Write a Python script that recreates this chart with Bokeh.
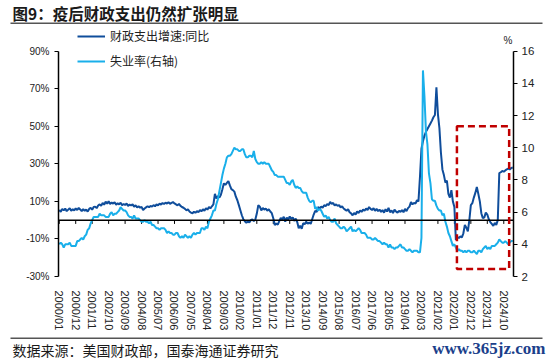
from bokeh.plotting import figure
from bokeh.layouts import column
from bokeh.models import (Range1d, LinearAxis, FixedTicker, PrintfTickFormatter,
                          Legend, LegendItem, Label, BoxAnnotation, Span, ColumnDataSource)
from bokeh.embed import file_html
from bokeh.resources import INLINE

# ---------------- data ----------------
f2000 = [5.5, 4.4, 6.0, 5.2, 6.2, 4.8, 5.6, 6.4, 5.0, 5.8, 5.2, 6.3]
f2001 = [5.4, 6.5, 5.7, 4.8, 5.9, 5.0, 5.6, 4.6, 6.0, 6.6, 5.6, 7.0]
f2002 = [7.2, 6.4, 7.8, 8.4, 7.6, 9.2, 8.2, 9.8, 8.8, 10.0, 8.6, 9.4]
f2003 = [8.8, 9.5, 8.2, 9.0, 8.4, 9.3, 7.9, 8.6, 8.1, 8.8, 7.6, 8.3]
f2004 = [7.8, 8.4, 7.2, 7.9, 6.8, 7.4, 6.6, 7.1, 5.3, 6.2, 6.8, 7.4]
f2005 = [6.9, 7.6, 7.2, 8.0, 7.4, 8.4, 7.8, 8.8, 8.3, 9.1, 8.6, 9.3]
f2006 = [8.8, 9.5, 8.7, 9.2, 9.6, 8.9, 8.4, 7.9, 8.6, 7.6, 7.0, 6.6]
f2007 = [6.0, 5.2, 5.8, 4.6, 4.0, 3.7, 4.5, 3.9, 4.8, 4.2, 5.4, 4.7]
f2008 = [5.8, 5.0, 6.4, 5.6, 7.0, 6.3, 7.4, 8.4, 14.0, 11.5, 12.8, 12.0]
f2009 = [13.5, 16.5, 19.6, 18.8, 19.8, 20.8, 18.5, 16.5, 16.0, 15.2, 12.5, 10.6]
f2010 = [8.0, 5.3, 2.6, 0.5, -0.6, -1.4, -0.8, -1.2, 0.0, 0.4, -0.5, 0.3]
f2011 = [3.5, 8.0, 7.2, 5.2, 6.5, 5.6, 6.2, 5.0, 5.8, 4.6, 3.7, 1.0]
f2012 = [-2.6, -1.8, -2.4, -0.5, 1.2, 0.3, 1.8, -0.8, 1.4, 0.2, 2.0, 0.6]
f2013 = [1.5, -0.4, 0.8, -1.0, -4.3, -3.0, -4.6, -1.6, -2.2, -0.8, -1.9, -1.2]
f2014 = [-2.0, 0.5, 3.0, 5.0, 4.4, 7.0, 6.2, 7.2, 6.6, 8.0, 7.4, 8.6]
f2015 = [8.0, 9.7, 8.6, 9.2, 7.8, 8.4, 7.6, 8.0, 6.8, 7.4, 6.2, 5.6]
f2016 = [5.0, 5.8, 4.2, 3.6, 2.6, 3.8, 3.0, 4.6, 3.8, 5.2, 4.4, 5.6]
f2017 = [5.0, 6.2, 5.4, 7.0, 6.0, 5.4, 6.4, 5.0, 6.0, 4.8, 5.6, 4.4]
f2018 = [5.4, 4.0, 5.8, 4.6, 6.6, 4.2, 5.2, 3.8, 5.6, 4.6, 4.0, 5.0]
f2019 = [4.4, 5.4, 4.2, 6.0, 4.8, 6.4, 7.2, 9.7, 8.4, 9.2, 8.8, 10.6]
f2020 = [10.0, 23.0, 38.0, 42.0, 45.0, 47.0, 48.5, 50.0, 51.5, 53.0, 54.8, 56.0]
f2021 = [70.7, 56.5, 49.0, 36.0, 27.0, 24.0, 20.0, 21.0, 14.0, 12.0, 16.0, 10.0]
f2022 = [7.0, -10.6, -9.0, -9.5, -8.6, -9.2, -7.0, -2.6, -4.0, -6.0, 0.0, 8.0]
f2023 = [9.0, 12.0, 14.5, 17.7, 14.0, 10.0, 3.7, 1.0, 1.5, 4.0, 3.0, 0.5]
f2024 = [-1.0, -2.0, -3.0, -1.5, -2.5, 0.0, 25.0, 25.5, 26.2, 25.8, 26.5, 27.0]
f2025 = [27.4, 27.0, 27.8, 28.0]

u2000 = [4.0, 4.1, 4.0, 3.8, 4.0, 4.0, 4.0, 4.1, 3.9, 3.9, 3.9, 3.9]
u2001 = [4.2, 4.2, 4.3, 4.4, 4.3, 4.5, 4.6, 4.9, 5.0, 5.3, 5.5, 5.7]
u2002 = [5.7, 5.7, 5.7, 5.9, 5.8, 5.8, 5.8, 5.7, 5.7, 5.7, 5.9, 6.0]
u2003 = [5.8, 5.9, 5.9, 6.0, 6.1, 6.3, 6.2, 6.1, 6.1, 6.0, 5.8, 5.7]
u2004 = [5.7, 5.6, 5.8, 5.6, 5.6, 5.6, 5.5, 5.4, 5.4, 5.5, 5.4, 5.4]
u2005 = [5.3, 5.4, 5.2, 5.2, 5.1, 5.0, 5.0, 4.9, 5.0, 5.0, 5.0, 4.9]
u2006 = [4.7, 4.8, 4.7, 4.7, 4.6, 4.6, 4.7, 4.7, 4.5, 4.4, 4.5, 4.4]
u2007 = [4.6, 4.5, 4.4, 4.5, 4.4, 4.6, 4.7, 4.6, 4.7, 4.7, 4.7, 5.0]
u2008 = [5.0, 4.9, 5.1, 5.0, 5.4, 5.6, 5.8, 6.1, 6.1, 6.5, 6.8, 7.3]
u2009 = [7.8, 8.3, 8.7, 9.0, 9.4, 9.5, 9.5, 9.6, 9.8, 10.0, 9.9, 9.9]
u2010 = [9.8, 9.8, 9.9, 9.9, 9.6, 9.4, 9.4, 9.5, 9.5, 9.4, 9.8, 9.3]
u2011 = [9.1, 9.0, 9.0, 9.1, 9.0, 9.1, 9.0, 9.0, 9.0, 8.8, 8.6, 8.5]
u2012 = [8.3, 8.3, 8.2, 8.2, 8.2, 8.2, 8.2, 8.0, 7.8, 7.8, 7.7, 7.9]
u2013 = [8.0, 7.7, 7.5, 7.6, 7.5, 7.5, 7.3, 7.2, 7.2, 7.2, 6.9, 6.7]
u2014 = [6.6, 6.7, 6.7, 6.2, 6.3, 6.1, 6.2, 6.1, 5.9, 5.7, 5.8, 5.6]
u2015 = [5.7, 5.5, 5.4, 5.4, 5.6, 5.3, 5.2, 5.1, 5.0, 5.0, 5.1, 5.0]
u2016 = [4.8, 4.9, 5.0, 5.1, 4.8, 4.9, 4.8, 4.9, 5.0, 4.9, 4.7, 4.7]
u2017 = [4.7, 4.6, 4.4, 4.4, 4.4, 4.3, 4.3, 4.4, 4.3, 4.2, 4.2, 4.1]
u2018 = [4.0, 4.1, 4.0, 4.0, 3.8, 4.0, 3.8, 3.8, 3.7, 3.8, 3.8, 3.9]
u2019 = [4.0, 3.8, 3.8, 3.7, 3.6, 3.6, 3.7, 3.6, 3.5, 3.6, 3.6, 3.6]
u2020 = [3.5, 3.5, 4.4, 14.8, 13.2, 11.0, 10.2, 8.4, 7.8, 6.8, 6.7, 6.7]
u2021 = [6.4, 6.2, 6.1, 6.1, 5.8, 5.9, 5.4, 5.1, 4.7, 4.5, 4.2, 3.9]
u2022 = [4.0, 3.8, 3.6, 3.7, 3.6, 3.6, 3.5, 3.6, 3.5, 3.6, 3.6, 3.5]
u2023 = [3.5, 3.6, 3.5, 3.4, 3.6, 3.6, 3.5, 3.7, 3.8, 3.9, 3.7, 3.8]
u2024 = [3.7, 3.9, 3.9, 3.9, 4.0, 4.1, 4.3, 4.2, 4.1, 4.1, 4.2, 4.1]
u2025 = [4.0, 4.1, 4.2, 4.2]

fiscal = (f2000 + f2001 + f2002 + f2003 + f2004 + f2005 + f2006 + f2007 + f2008 +
          f2009 + f2010 + f2011 + f2012 + f2013 + f2014 + f2015 + f2016 + f2017 +
          f2018 + f2019 + f2020 + f2021 + f2022 + f2023 + f2024 + f2025)
unemp = (u2000 + u2001 + u2002 + u2003 + u2004 + u2005 + u2006 + u2007 + u2008 +
         u2009 + u2010 + u2011 + u2012 + u2013 + u2014 + u2015 + u2016 + u2017 +
         u2018 + u2019 + u2020 + u2021 + u2022 + u2023 + u2024 + u2025)

months = [f"{y}/{m:02d}" for y in range(2000, 2026) for m in range(1, 13)][:len(fiscal)]
label_step = 11
tick_idx = list(range(0, len(months), label_step))

left_ticks = [-30, -10, 10, 30, 50, 70, 90]
right_ticks = [2, 4, 6, 8, 10, 12, 14, 16]

series_names = ["财政支出增速:同比", "失业率(右轴)"]
title_text = "图9：疫后财政支出仍然扩张明显"
source_text = "数据来源：美国财政部，国泰海通证券研究"
watermark_text = "www.365jz.com"

# highlighted period (box): month index span and left-axis value span
box_x = (265.7, 300.6)
box_y = (-26.0, 50.0)

DARK = "#0F4D9B"
LIGHT = "#19AFEA"
RED = "#C00000"
CJK = "Noto Sans CJK SC"
LAT = "Liberation Sans"
W = 550
HEAD_H = 26
FOOT_H = 30
MAIN_H = 363 - HEAD_H - FOOT_H


def strip(height):
    f = figure(width=W, height=height, output_backend="svg", toolbar_location=None,
               x_range=Range1d(0, W), y_range=Range1d(0, height),
               min_border=0, min_border_left=0, min_border_right=0,
               min_border_top=0, min_border_bottom=0, title=None,
               frame_align=False)
    f.axis.visible = False
    f.grid.visible = False
    f.outline_line_color = None
    f.background_fill_color = "white"
    f.border_fill_color = "white"
    return f


def rule(f, y):
    f.add_layout(BoxAnnotation(left=10, right=542, bottom=y - 0.75, top=y + 0.75,
                               fill_color="#555555", fill_alpha=1, line_alpha=0))


# ---------------- header ----------------
head = strip(HEAD_H)
head.add_layout(Label(x=12, y=13.5, text=title_text, text_font=CJK, text_font_size="15.5px",
                      text_font_style="bold", text_baseline="middle", text_color="#1a1a1a"))
rule(head, 3.3)

# ---------------- main chart ----------------
L_LO, L_HI = -30.0, 103.1
R_LO = 2.0
R_HI = R_LO + (L_HI - L_LO) * 14.0 / 120.0

p = figure(width=W, height=MAIN_H, output_backend="svg", toolbar_location=None,
           x_range=Range1d(-0.5, len(months) - 0.5), y_range=Range1d(L_LO, L_HI),
           min_border_left=58, min_border_right=37, min_border_top=0,
           min_border_bottom=56, title=None, frame_align=False)
p.extra_y_ranges = {"right": Range1d(R_LO, R_HI)}
p.outline_line_color = None
p.grid.visible = False
p.background_fill_color = "white"
p.border_fill_color = "white"

x = list(range(len(months)))
src = ColumnDataSource(dict(x=x, fiscal=fiscal, unemp=unemp))

# zero line with category ticks
p.add_layout(Span(location=0, dimension="width", line_color="black", line_width=1.5))
p.segment(x0=tick_idx, y0=[0] * len(tick_idx), x1=tick_idx, y1=[-2] * len(tick_idx),
          line_color="black", line_width=1)

r1 = p.line("x", "fiscal", source=src, line_color=DARK, line_width=2)
r2 = p.line("x", "unemp", source=src, line_color=LIGHT, line_width=2, y_range_name="right")

# x axis (labels only)
xa = p.xaxis[0]
xa.ticker = FixedTicker(ticks=tick_idx)
xa.major_label_overrides = {i: months[i] for i in tick_idx}
xa.major_label_orientation = "vertical"
xa.axis_line_color = None
xa.major_tick_line_color = None
xa.minor_tick_line_color = None
xa.major_label_standoff = 8
xa.major_label_text_font = LAT
xa.major_label_text_font_size = "11px"
xa.major_label_text_color = "#222222"

# left axis
ya = p.yaxis[0]
ya.ticker = FixedTicker(ticks=left_ticks)
ya.formatter = PrintfTickFormatter(format="%d%%")
ya.bounds = (-30, 90)
ya.axis_line_width = 1.5
ya.axis_line_color = "black"
ya.major_tick_line_color = "black"
ya.major_tick_in = 0
ya.major_tick_out = 4
ya.minor_tick_line_color = None
ya.major_label_standoff = 5
ya.major_label_text_font = LAT
ya.major_label_text_font_size = "10px"
ya.major_label_text_color = "#222222"

# right axis
ra = LinearAxis(y_range_name="right", ticker=FixedTicker(ticks=right_ticks), bounds=(2, 16))
ra.axis_line_width = 1.5
ra.axis_line_color = "black"
ra.major_tick_line_color = "black"
ra.major_tick_in = 0
ra.major_tick_out = 4
ra.minor_tick_line_color = None
ra.major_label_standoff = 4
ra.major_label_text_font = LAT
ra.major_label_text_font_size = "11.5px"
ra.major_label_text_color = "#222222"
p.add_layout(ra, "right")

p.add_layout(Label(x=len(months) - 0.5, y=95.5, x_offset=-1, text="%", text_align="right",
                   text_baseline="middle", text_font=LAT, text_font_size="10px",
                   text_color="#222222"))

# highlight box
p.add_layout(BoxAnnotation(left=box_x[0], right=box_x[1], bottom=box_y[0], top=box_y[1],
                           fill_alpha=0, line_color=RED, line_alpha=1, line_width=2.5,
                           line_dash="7 4"))

# legend
legend = Legend(items=[LegendItem(label=series_names[0], renderers=[r1]),
                       LegendItem(label=series_names[1], renderers=[r2])],
                location=(19, 207), orientation="vertical",
                glyph_width=28, glyph_height=12, label_height=12, spacing=8,
                label_standoff=5, padding=0, margin=0,
                border_line_alpha=0, background_fill_alpha=0,
                label_text_font=CJK, label_text_font_size="12px",
                label_text_color="#222222")
p.add_layout(legend)

# ---------------- footer ----------------
foot = strip(FOOT_H)
rule(foot, 25.3)
foot.add_layout(Label(x=12, y=14, text=source_text, text_font=CJK, text_font_size="14px",
                      text_baseline="middle", text_color="#1a1a1a"))
foot.add_layout(Label(x=545, y=15, text=watermark_text, text_font="Liberation Serif",
                      text_font_size="17px", text_font_style="bold", text_align="right",
                      text_baseline="middle", text_color="#1B3F8B"))

layout = column(head, p, foot, spacing=0)
open("out.html", "w").write(file_html(layout, INLINE))
